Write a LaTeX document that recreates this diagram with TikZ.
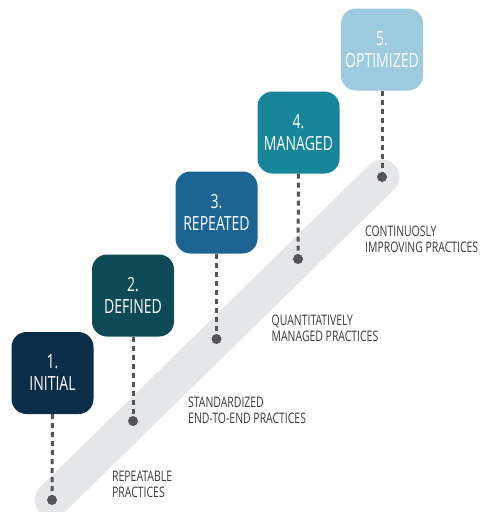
\documentclass[tikz,border=0pt]{standalone}
\usepackage{fontspec}
\setmainfont{Open Sans}[FakeStretch=0.72]
\begin{document}
\begin{tikzpicture}[x=1pt,y=-1pt,
  stage/.style={minimum width=82pt,minimum height=82pt,rounded corners=15pt,
    inner sep=0pt,text=white,align=center,
    font=\fontsize{19.5}{22}\selectfont},
  band/.style={line width=35pt,line cap=round,draw=bandgray},
  stem/.style={draw=stemgray,line width=3pt,dash pattern=on 5pt off 4pt},
  dotmark/.style={circle,fill=stemgray,inner sep=0pt,minimum size=10pt},
  lbl/.style={anchor=north west,inner sep=0pt,align=left,text=labelgray,
    font=\fontsize{14.5}{16}\selectfont}]
\definecolor{bandgray}{HTML}{E5E6E7}
\definecolor{stemgray}{HTML}{555558}
\definecolor{labelgray}{HTML}{3A3A3C}
\definecolor{cinitial}{HTML}{0C2D48}
\definecolor{cdefined}{HTML}{0E4A55}
\definecolor{crepeated}{HTML}{1B6493}
\definecolor{cmanaged}{HTML}{17869A}
\definecolor{coptimized}{HTML}{9CCADF}
\useasboundingbox (0,0) rectangle (485,512);

% anchor points on the rising band
\coordinate (d1) at (52,500);
\coordinate (d2) at (133,421);
\coordinate (d3) at (216.5,339);
\coordinate (d4) at (298,259);
\coordinate (d5) at (382,177);

\draw[band] (d1) -- (d5);

% maturity stages
\node[stage,fill=cinitial]   (b1) at (52.5,373)  {1.\\INITIAL};
\node[stage,fill=cdefined]   (b2) at (133,295.5) {2.\\DEFINED};
\node[stage,fill=crepeated]  (b3) at (216.5,212.5) {3.\\REPEATED};
\node[stage,fill=cmanaged]   (b4) at (298.5,132.5) {4.\\MANAGED};
\node[stage,fill=coptimized] (b5) at (382,49.5)  {5.\\OPTIMIZED};

% dashed stems down to the band
\foreach \i in {1,...,5}{
  \draw[stem] (b\i.south) -- (d\i);
  \node[dotmark] (p\i) at (d\i) {};
}

% practice labels
\node[lbl] (l1) at (112,471) {REPEATABLE\\PRACTICES};
\node[lbl] (l2) at (188,397) {STANDARDIZED\\END-TO-END PRACTICES};
\node[lbl] (l3) at (271.5,315) {QUANTITATIVELY\\MANAGED PRACTICES};
\node[lbl] (l4) at (365,226) {CONTINUOSLY\\IMPROVING PRACTICES};
\end{tikzpicture}
\end{document}
